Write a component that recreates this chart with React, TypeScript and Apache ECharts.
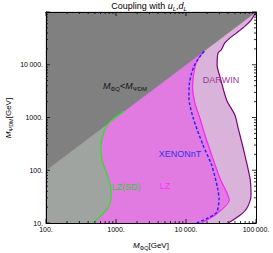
import React, { useEffect, useRef } from "react";
import * as echarts from "echarts";

// ---- axis ranges & ticks ----
const X_MIN = 100;
const X_MAX = 100000;
const Y_MIN = 10;
const Y_MAX = 100000;
const xTickValues = [100, 1000, 10000, 100000];
const xTickLabels = ["100.", "1000.", "10\u2009000.", "100\u2009000."];
const yTickValues = [10, 100, 1000, 10000, 100000];
const yTickLabels = ["10.", "100.", "1000.", "10\u2009000.", ""];
const xMinorTicks = [200, 300, 400, 500, 600, 700, 800, 900, 2000, 3000, 4000, 5000, 6000, 7000, 8000, 9000, 20000, 30000, 40000, 50000, 60000, 70000, 80000, 90000];
const yMinorTicks = [20, 30, 40, 50, 60, 70, 80, 90, 200, 300, 400, 500, 600, 700, 800, 900, 2000, 3000, 4000, 5000, 6000, 7000, 8000, 9000, 20000, 30000, 40000, 50000, 60000, 70000, 80000, 90000];

// ---- curves (M_PhiQ [GeV], M_PsiDM [GeV]) ----
const lzSD = [[470, 10], [625, 14], [777, 20], [848, 31], [838, 48], [736, 87], [631, 155], [611, 277], [659, 497], [820, 826], [1320, 1320]];
const lz = [[16700, 10], [27500, 15], [41500, 27], [38900, 36], [30600, 70], [23300, 193], [18700, 460], [15800, 970], [13400, 1870], [12400, 3760], [12800, 6350], [13900, 10700], [17000, 17000]];
const xenonNT = [[14200, 10], [20800, 12.5], [27500, 16], [29600, 29], [28400, 45], [23300, 124], [17500, 300], [12600, 1000], [11000, 2400], [11200, 4500], [12000, 6900], [13000, 9400], [14600, 12200], [16400, 15200], [19000, 19000]];
const darwin = [[40200, 10], [59000, 14], [73600, 18.8], [84900, 33.6], [82100, 70], [65900, 258], [55800, 618], [50100, 1107], [38100, 2130], [30600, 5890], [27800, 9820], [28650, 16600], [31900, 19200], [35700, 25700], [42100, 32000], [52300, 39800], [69000, 53300], [85700, 71100], [100000, 100000]];
// region where M_PhiQ < M_PsiDM (above diagonal)
const excluded = [[100, 100], [100, 100000], [100000, 100000]];

const FONT = "'Liberation Sans', Arial, sans-serif";
const C_DARK = "#808080";
const C_SD = "#a0a4a0";
const C_LZ = "#e17be1";
const C_DARWIN = "#d9b3d9";

function closeRegion(curve: number[][]) {
  // curve from bottom to the diagonal, then back along diagonal to the left edge
  return [...curve, [X_MIN, X_MIN], [X_MIN, Y_MIN]];
}

function regionSeries(points: number[][], color: string, z: number) {
  return {
    type: "custom",
    z,
    silent: true,
    data: [[X_MIN, Y_MIN]],
    renderItem: (_p: any, api: any) => ({
      type: "polygon",
      shape: { points: points.map((pt) => api.coord(pt)) },
      style: { fill: color, stroke: color, lineWidth: 0.5 },
    }),
  };
}

function lineSeries(data: number[][], color: string, width: number, dashed?: boolean) {
  return {
    type: "line",
    data,
    smooth: 0.25,
    showSymbol: false,
    symbol: "none",
    z: 4,
    silent: true,
    lineStyle: { color, width, type: dashed ? [3, 2] : "solid" },
  };
}

type Tick = { axis: string; v: number; len: number };
const tickDefs: Tick[] = [
  ...xTickValues.map((v) => ({ axis: "x", v, len: 4 })),
  ...xMinorTicks.map((v) => ({ axis: "x", v, len: 2 })),
  ...yTickValues.map((v) => ({ axis: "y", v, len: 4 })),
  ...yMinorTicks.map((v) => ({ axis: "y", v, len: 2 })),
];

function labelFor(values: number[], labels: string[]) {
  return (val: number) => {
    const i = values.findIndex((t) => Math.abs(Math.log10(t) - Math.log10(val)) < 1e-6);
    return i >= 0 ? labels[i] : "";
  };
}

function sub(text: string) {
  return text;
}

export default function App() {
  const ref = useRef<HTMLDivElement>(null);
  useEffect(() => {
    if (!ref.current) return;
    const chart = echarts.init(ref.current, null, { renderer: "svg" });
    const tickStyle = { stroke: "#000", lineWidth: 0.8 };
    const richBase = {
      n: { fontSize: 8, fontFamily: FONT, fill: "#000", color: "#000", lineHeight: 12 },
      i: { fontSize: 8, fontFamily: FONT, fontStyle: "italic", fill: "#000", color: "#000", lineHeight: 12 },
      s: { fontSize: 5.5, fontFamily: FONT, fill: "#000", color: "#000", lineHeight: 5, verticalAlign: "bottom" },
    };
    const annot = (x: number, y: number, text: string, color: string) => ({
      type: "text",
      x,
      y,
      z: 20,
      silent: true,
      style: {
        text,
        fill: color,
        font: `9px ${FONT}`,
        fontSize: 9,
        fontFamily: FONT,
        align: "center",
        textAlign: "center",
        verticalAlign: "middle",
        textVerticalAlign: "middle",
      },
    });
    const richText = (x: number, y: number, text: string, rich: any, rotation = 0) => ({
      type: "text",
      x,
      y,
      rotation,
      z: 20,
      silent: true,
      style: {
        text,
        rich,
        fill: "#000",
        align: "center",
        textAlign: "center",
        verticalAlign: "middle",
        textVerticalAlign: "middle",
      },
    });
    const titleRich = {
      n: { ...richBase.n, fontSize: 9 },
      i: { ...richBase.i, fontSize: 9 },
      s: { ...richBase.s, fontSize: 6, fontStyle: "italic" },
    };
    const option: any = {
      animation: false,
      grid: { left: 46, right: 17, top: 12, bottom: 30 },
      xAxis: [
        {
          type: "log",
          logBase: 10,
          min: X_MIN,
          max: X_MAX,
          z: 10,
          axisLine: { show: true, lineStyle: { color: "#000", width: 1 } },
          axisTick: { show: false },
          splitLine: { show: false },
          axisLabel: {
            fontSize: 7,
            fontFamily: FONT,
            color: "#000",
            margin: 3,
            showMinLabel: true,
            showMaxLabel: true,
            formatter: labelFor(xTickValues, xTickLabels),
          },
        },
        {
          type: "log",
          logBase: 10,
          min: X_MIN,
          max: X_MAX,
          position: "top",
          z: 10,
          axisLine: { show: true, lineStyle: { color: "#000", width: 1 } },
          axisTick: { show: false },
          splitLine: { show: false },
          axisLabel: { show: false },
        },
      ],
      yAxis: [
        {
          type: "log",
          logBase: 10,
          min: Y_MIN,
          max: Y_MAX,
          z: 10,
          axisLine: { show: true, lineStyle: { color: "#000", width: 1 } },
          axisTick: { show: false },
          splitLine: { show: false },
          axisLabel: {
            fontSize: 7,
            fontFamily: FONT,
            color: "#000",
            margin: 3,
            showMinLabel: true,
            showMaxLabel: true,
            formatter: labelFor(yTickValues, yTickLabels),
          },
        },
        {
          type: "log",
          logBase: 10,
          min: Y_MIN,
          max: Y_MAX,
          position: "right",
          z: 10,
          axisLine: { show: true, lineStyle: { color: "#000", width: 1 } },
          axisTick: { show: false },
          splitLine: { show: false },
          axisLabel: { show: false },
        },
      ],
      series: [
        regionSeries(closeRegion(darwin), C_DARWIN, 1),
        regionSeries(closeRegion(lz), C_LZ, 1),
        regionSeries(closeRegion(lzSD), C_SD, 1),
        regionSeries(excluded, C_DARK, 1),
        lineSeries(lzSD, "#2ee02e", 1.3),
        lineSeries(darwin, "#800080", 1.2),
        lineSeries(lz, "#ff20ff", 1.2),
        lineSeries(xenonNT, "#2020ff", 1.4, true),
        {
          type: "custom",
          z: 6,
          silent: true,
          clip: false,
          data: tickDefs.map((t) => (t.axis === "x" ? [t.v, Y_MIN] : [X_MIN, t.v])),
          renderItem: (params: any, api: any) => {
            const t = tickDefs[params.dataIndex];
            if (t.axis === "x") {
              const b = api.coord([t.v, Y_MIN]);
              const tp = api.coord([t.v, Y_MAX]);
              return {
                type: "group",
                children: [
                  { type: "line", shape: { x1: b[0], y1: b[1], x2: b[0], y2: b[1] - t.len }, style: tickStyle },
                  { type: "line", shape: { x1: tp[0], y1: tp[1], x2: tp[0], y2: tp[1] + t.len }, style: tickStyle },
                ],
              };
            }
            const l = api.coord([X_MIN, t.v]);
            const r = api.coord([X_MAX, t.v]);
            return {
              type: "group",
              children: [
                { type: "line", shape: { x1: l[0], y1: l[1], x2: l[0] + t.len, y2: l[1] }, style: tickStyle },
                { type: "line", shape: { x1: r[0], y1: r[1], x2: r[0] - t.len, y2: r[1] }, style: tickStyle },
              ],
            };
          },
        },
      ],
      graphic: [
        richText(149, 6, "{n|Coupling with }{i|u}{s|L}{n|,}{i|d}{s|L}", titleRich),
        richText(151, 245, "{i|M}{s|ΦQ}{n|[GeV]}", richBase),
        richText(8, 118, "{i|M}{s|ΨDM}{n|[GeV]}", richBase, Math.PI / 2),
        richText(125, 86, "{i|M}{s|ΦQ}{n|<}{i|M}{s|ΨDM}", {
          n: { ...richBase.n, fontSize: 9, fill: "#111" },
          i: { ...richBase.i, fontSize: 9, fill: "#111" },
          s: { ...richBase.s, fontSize: 6, fill: "#111" },
        }),
        annot(221, 80, "DARWIN", "#9b3a9b"),
        annot(180, 154, "XENONnT", "#3030ee"),
        annot(165, 186, "LZ", "#ff30ff"),
        annot(126, 187, "LZ(SD)", "#30cc30"),
      ],
    };
    chart.setOption(option);
    return () => chart.dispose();
  }, []);
  return (
    <div
      ref={ref}
      style={{ position: "fixed", left: 0, top: 0, width: 273, height: 253, background: "#fff" }}
    />
  );
}
